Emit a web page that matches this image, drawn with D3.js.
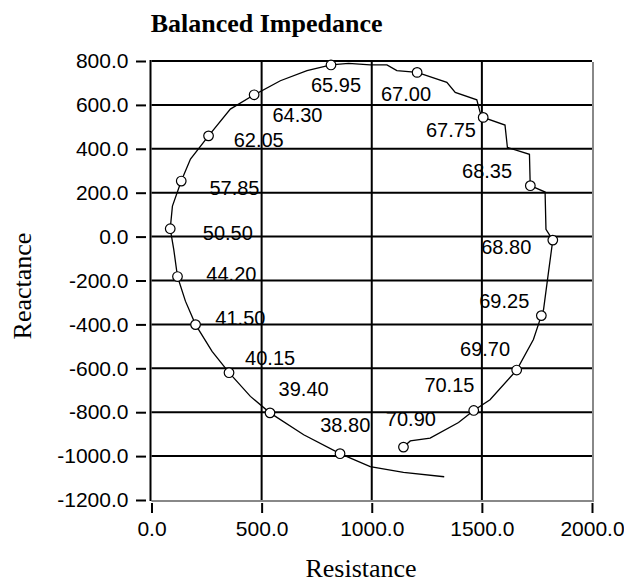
<!DOCTYPE html>
<html>
<head>
<meta charset="utf-8">
<script src="https://cdn.jsdelivr.net/npm/d3@7"></script>
<style>
  body { margin: 0; background: #fff; }
  svg { display: block; }
</style>
</head>
<body>
<div id="chart"></div>
<script>
// sweep trace (resistance, reactance), low to high frequency
const sweepR = [1329, 1144, 993, 856, 691, 538, 449, 352, 275, 200,
  154, 118, 101, 85, 95, 135, 177, 259, 358, 466,
  585, 706, 815, 895, 993, 1069, 1114, 1206, 1341, 1379,
  1477, 1492, 1506, 1605, 1616, 1716, 1719, 1720, 1787, 1791,
  1822, 1802, 1780, 1770, 1734, 1658, 1537, 1463, 1394, 1265,
  1175, 1144];
const sweepX = [-1094, -1074, -1048, -989, -903, -803, -728, -620, -523, -401,
  -294, -182, -58, 36, 139, 253, 353, 459, 581, 646,
  710, 756, 782, 789, 782, 782, 756, 748, 703, 657,
  623, 566, 543, 508, 406, 375, 253, 232, 203, 33,
  -16, -165, -332, -360, -469, -608, -743, -792, -847, -918,
  -931, -959];

// marked frequencies
const markerFreq = ["38.80", "39.40", "40.15", "41.50", "44.20", "50.50", "57.85", "62.05", "64.30",
  "65.95", "67.00", "67.75", "68.35", "68.80", "69.25", "69.70", "70.15", "70.90"];
const markerR = [856, 538, 352, 200, 118, 85, 135, 259, 466, 815, 1206, 1506, 1720, 1822, 1770, 1658, 1463, 1144];
const markerX = [-989, -803, -620, -401, -182, 36, 253, 459, 646, 782, 748, 543, 232, -16, -360, -608, -792, -959];
// where each frequency label sits (data units, text start / baseline)
const labelR = [766, 577, 425, 290, 249, 233, 263, 373, 549, 724, 1042, 1246, 1410, 1497, 1488, 1401, 1239, 1064];
const labelX = [-888, -728, -584, -401, -203, -17, 189, 410, 523, 657, 616, 452, 266, -81, -325, -546, -710, -865];

const xTicks = [0, 500, 1000, 1500, 2000];
const yTicks = [800, 600, 400, 200, 0, -200, -400, -600, -800, -1000, -1200];

const chartTitle = "Balanced Impedance";
const xTitle = "Resistance";
const yTitle = "Reactance";

const width = 624, height = 582;
const sans = "'Liberation Sans', Arial, sans-serif";
const serif = "'Liberation Serif', 'Times New Roman', serif";

const svg = d3.select("#chart").append("svg")
  .attr("width", width)
  .attr("height", height);

const x = d3.scaleLinear().domain([0, 2000]).range([151.5, 592]);
const y = d3.scaleLinear().domain([-1200, 800]).range([500, 61]);

// grid lines
svg.append("g")
  .selectAll("line.h")
  .data(yTicks.slice(0, -1))
  .enter().append("line")
  .attr("x1", x(0)).attr("x2", x(2000))
  .attr("y1", d => y(d)).attr("y2", d => y(d))
  .attr("stroke", "#000").attr("stroke-width", 2);

svg.append("g")
  .selectAll("line.v")
  .data(xTicks.slice(1, -1))
  .enter().append("line")
  .attr("x1", d => x(d)).attr("x2", d => x(d))
  .attr("y1", y(800)).attr("y2", y(-1200))
  .attr("stroke", "#000").attr("stroke-width", 2);

// frame: grey bottom / right, black left
svg.append("line")
  .attr("x1", x(0)).attr("x2", x(2000) + 1)
  .attr("y1", y(-1200) + 1).attr("y2", y(-1200) + 1)
  .attr("stroke", "#888").attr("stroke-width", 2);
svg.append("line")
  .attr("x1", x(2000) + 1).attr("x2", x(2000) + 1)
  .attr("y1", y(800) + 1).attr("y2", y(-1200) + 2)
  .attr("stroke", "#888").attr("stroke-width", 2);
svg.append("line")
  .attr("x1", x(0) - 1).attr("x2", x(0) - 1)
  .attr("y1", y(800) - 1).attr("y2", y(-1200) + 1)
  .attr("stroke", "#000").attr("stroke-width", 2);

// axes (ticks detached from the frame), plain hyphen for negatives
const fmt = d => d.toFixed(1);
const yAxis = svg.append("g")
  .attr("transform", "translate(" + (x(0) - 5.5) + ",0)")
  .call(d3.axisLeft(y).tickValues(yTicks).tickFormat(fmt).tickSize(10).tickPadding(7.5));
const xAxis = svg.append("g")
  .attr("transform", "translate(0," + (y(-1200) + 3) + ")")
  .call(d3.axisBottom(x).tickValues(xTicks).tickFormat(fmt).tickSize(10).tickPadding(8));

[yAxis, xAxis].forEach(ax => {
  ax.select(".domain").remove();
  ax.selectAll(".tick line").attr("stroke", "#000").attr("stroke-width", 2);
  ax.selectAll(".tick text")
    .attr("fill", "#000")
    .style("font-family", sans)
    .style("font-size", "21px");
});

// sweep trace
const line = d3.line()
  .x(d => x(d[0]))
  .y(d => y(d[1]));

svg.append("path")
  .datum(sweepR.map((r, i) => [r, sweepX[i]]))
  .attr("d", line)
  .attr("fill", "none")
  .attr("stroke", "#000")
  .attr("stroke-width", 1.3);

// markers
svg.append("g")
  .selectAll("circle")
  .data(markerFreq)
  .enter().append("circle")
  .attr("cx", (d, i) => x(markerR[i]))
  .attr("cy", (d, i) => y(markerX[i]))
  .attr("r", 4.8)
  .attr("fill", "#fff")
  .attr("stroke", "#000")
  .attr("stroke-width", 1.2);

// frequency labels
svg.append("g")
  .selectAll("text")
  .data(markerFreq)
  .enter().append("text")
  .attr("x", (d, i) => x(labelR[i]))
  .attr("y", (d, i) => y(labelX[i]))
  .style("font-family", sans)
  .style("font-size", "20px")
  .attr("fill", "#000")
  .text(d => d);

// titles
svg.append("text")
  .attr("x", 150.7).attr("y", 32)
  .style("font-family", serif)
  .style("font-size", "26px")
  .style("font-weight", "bold")
  .text(chartTitle);

svg.append("text")
  .attr("x", 361).attr("y", 577)
  .attr("text-anchor", "middle")
  .style("font-family", serif)
  .style("font-size", "26px")
  .text(xTitle);

svg.append("text")
  .attr("transform", "translate(31,286) rotate(-90)")
  .attr("text-anchor", "middle")
  .style("font-family", serif)
  .style("font-size", "26px")
  .text(yTitle);
</script>
</body>
</html>
